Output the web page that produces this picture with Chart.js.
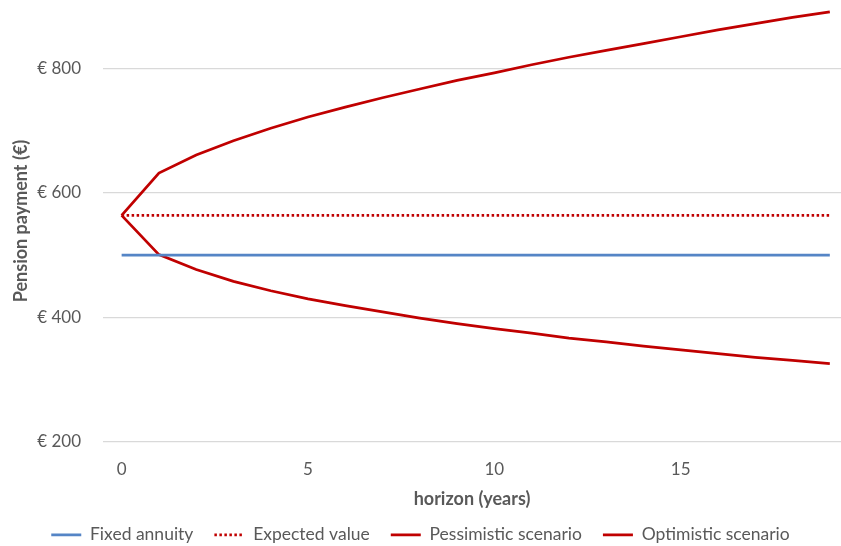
<!DOCTYPE html>
<html>
<head>
<meta charset="utf-8">
<title>Pension payment scenarios</title>
<script src="https://cdn.jsdelivr.net/npm/chart.js@4.4.1/dist/chart.umd.min.js"></script>
<style>
    html, body { margin: 0; padding: 0; background: #ffffff; }
    #wrap { width: 841px; height: 546px; position: relative; }
</style>
</head>
<body>
<div id="wrap"><canvas id="pensionChart"></canvas></div>
<script>
// horizon in years and the payment paths (EUR per month)
const years = [0, 1, 2, 3, 4, 5, 6, 7, 8, 9, 10, 11, 12, 13, 14, 15, 16, 17, 18, 19];
const fixedAnnuity = [500, 500, 500, 500, 500, 500, 500, 500, 500, 500, 500, 500, 500, 500, 500, 500, 500, 500, 500, 500];
const expectedValue = [564, 564, 564, 564, 564, 564, 564, 564, 564, 564, 564, 564, 564, 564, 564, 564, 564, 564, 564, 564];
const pessimistic = [564, 501, 477, 458, 443, 430, 419, 409, 399, 390, 382, 375, 367, 361, 354, 348, 342, 336, 331, 326];
const optimistic = [564, 632, 661, 684, 704, 722, 738, 753, 767, 781, 793, 806, 818, 829, 840, 851, 862, 872, 882, 891];

const xTickValues = [0, 5, 10, 15];
const yTickValues = [200, 400, 600, 800];

const fontFamily = 'Lato, "Open Sans", sans-serif';
const textColor = '#595959';

function toPoints(values) {
    return years.map((y, i) => ({ x: y, y: values[i] }));
}

function lineSet(label, values, color, dash) {
    return {
        label: label,
        data: toPoints(values),
        borderColor: color,
        backgroundColor: color,
        borderWidth: 2.75,
        borderDash: dash || [],
        borderCapStyle: 'butt',
        pointRadius: 0,
        pointHoverRadius: 0,
        tension: 0,
        fill: false
    };
}

// legend samples: short line in the dataset's own colour, width and dash
function legendLabels(chart) {
    const items = Chart.defaults.plugins.legend.labels.generateLabels(chart);
    items.forEach(item => {
        const ds = chart.data.datasets[item.datasetIndex];
        item.strokeStyle = ds.borderColor;
        item.lineWidth = ds.borderWidth;
        item.lineDash = ds.borderDash;
        item.lineCap = 'butt';
    });
    return items;
}

new Chart(document.getElementById('pensionChart'), {
    type: 'line',
    data: {
        datasets: [
            lineSet('Fixed annuity', fixedAnnuity, '#5585c6'),
            lineSet('Expected value', expectedValue, '#c00000', [2.5, 2.5]),
            lineSet('Pessimistic scenario', pessimistic, '#c00000'),
            lineSet('Optimistic scenario', optimistic, '#c00000')
        ]
    },
    options: {
        responsive: true,
        maintainAspectRatio: false,
        animation: false,
        layout: { padding: { top: 0, right: 0, bottom: -7.5, left: 0 } },
        plugins: {
            tooltip: { enabled: false },
            legend: {
                position: 'bottom',
                labels: {
                    color: textColor,
                    font: { family: fontFamily, size: 17.5 },
                    usePointStyle: true,
                    pointStyle: 'line',
                    pointStyleWidth: 30,
                    boxHeight: 17,
                    padding: 21,
                    generateLabels: legendLabels
                }
            }
        },
        scales: {
            x: {
                type: 'linear',
                min: -0.5,
                max: 19.3,
                afterBuildTicks: function(scale) {
                    scale.ticks = xTickValues.map(v => ({ value: v }));
                },
                afterFit: function(scale) {
                    scale.height = 63;
                },
                grid: { display: false },
                border: { display: false },
                ticks: {
                    color: textColor,
                    font: { family: fontFamily, size: 17 },
                    padding: 9,
                    maxRotation: 0
                },
                title: {
                    display: true,
                    text: 'horizon (years)',
                    color: textColor,
                    font: { family: fontFamily, size: 18, weight: 'bold' },
                    padding: { top: 0, bottom: -4.7 }
                }
            },
            y: {
                min: 200,
                max: 910,
                afterBuildTicks: function(scale) {
                    scale.ticks = yTickValues.map(v => ({ value: v }));
                },
                afterFit: function(scale) {
                    scale.width = 103;
                    scale.paddingTop = 0;
                    scale.paddingBottom = 0;
                },
                grid: { color: '#d9d9d9', lineWidth: 1.25, drawTicks: false },
                border: { display: false },
                ticks: {
                    color: textColor,
                    font: { family: fontFamily, size: 17 },
                    padding: 22,
                    callback: function(value) {
                        return '€ ' + value;
                    }
                },
                title: {
                    display: true,
                    text: 'Pension payment (€)',
                    color: textColor,
                    font: { family: fontFamily, size: 18, weight: 'bold' },
                    padding: { top: 10, bottom: 0 }
                }
            }
        }
    }
});
</script>
</body>
</html>
